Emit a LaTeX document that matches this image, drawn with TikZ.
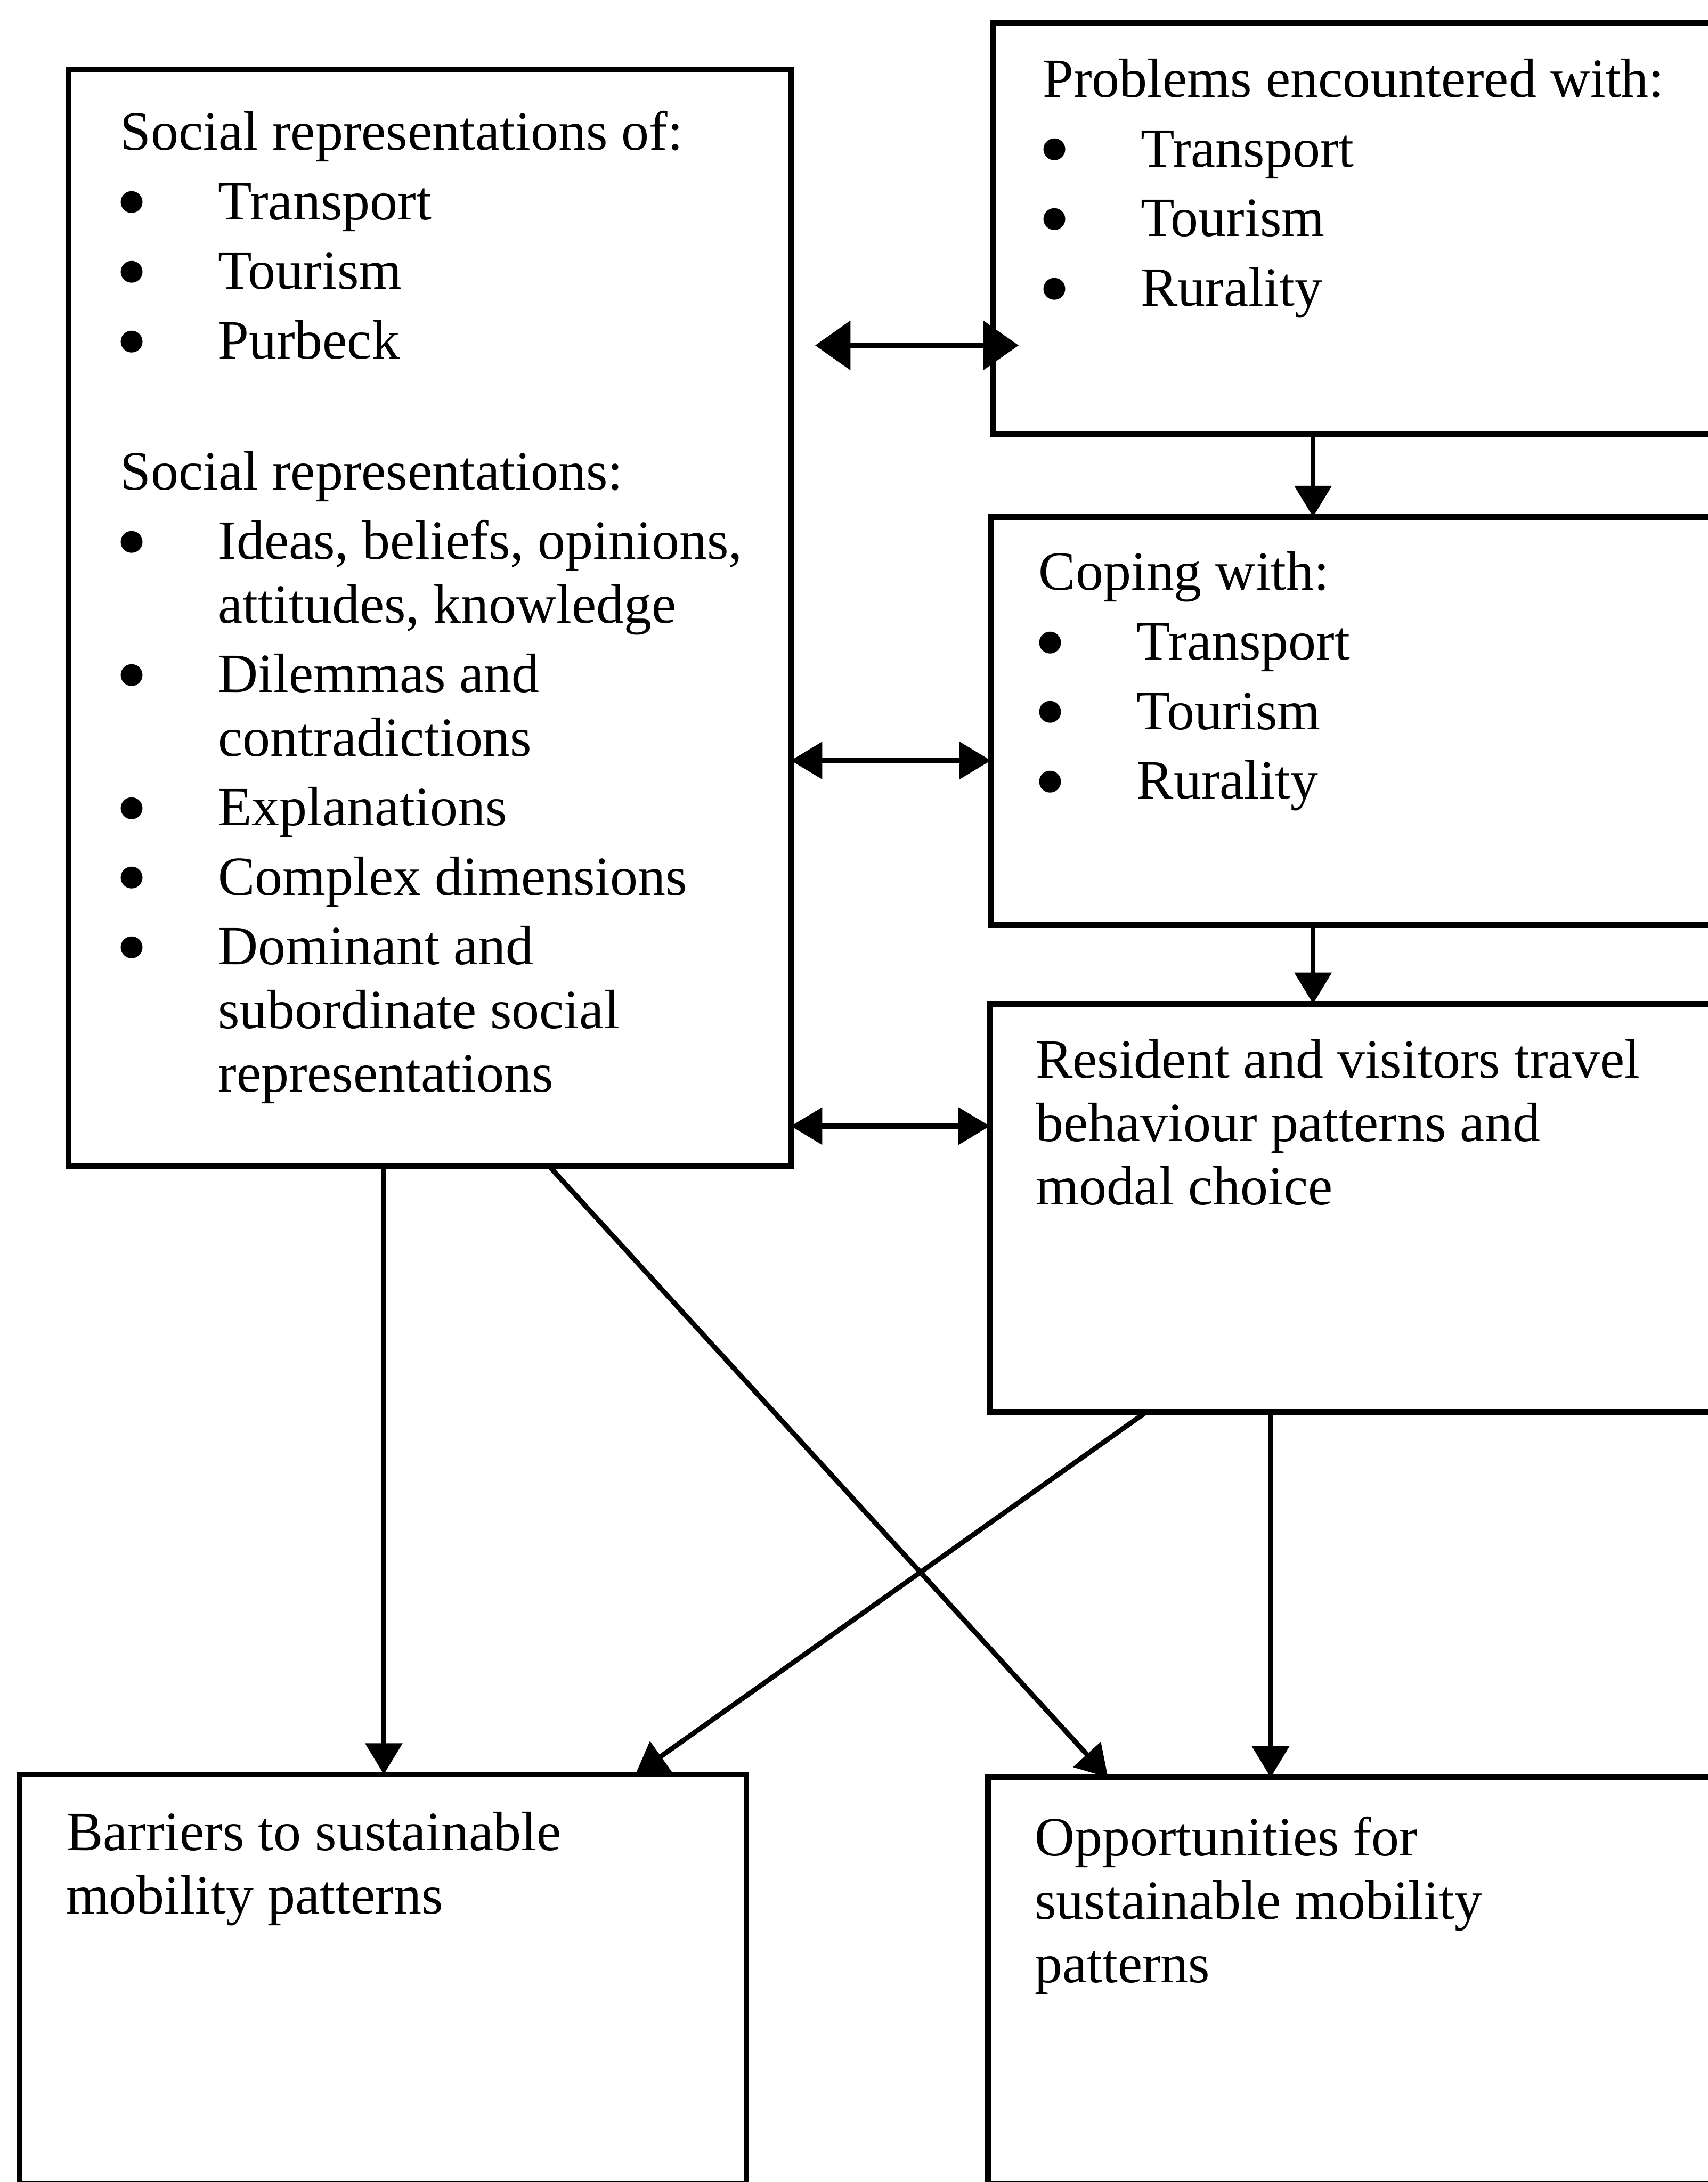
\documentclass[tikz,border=0pt]{standalone}
\usepackage{fontspec}
\usepackage{graphicx}
\setmainfont{Liberation Serif}
\usetikzlibrary{arrows.meta}

\newcommand{\bul}{\makebox[0.97cm][l]{\hspace*{-1.2pt}\smash{\raisebox{-3.7pt}{\scalebox{1.65}{\textbullet}}}}}
\newcommand{\cont}{\makebox[0.97cm]{}}

\tikzset{
  box/.style={draw, line width=1.6pt, inner sep=0pt, outer sep=0pt},
  % base of a multi-line node = base of its last line
  txt/.style={anchor=base west, align=left, inner sep=0pt, font=\fontsize{15.6}{17.9}\selectfont},
  bigtip/.style={>={Triangle[length=3.5mm,width=4.8mm]}},
}

\begin{document}
\begin{tikzpicture}[>={Triangle[length=3.1mm,width=3.6mm]}, line width=1.4pt]
\useasboundingbox (0,0) rectangle (16.91,-21.605);
\clip (0,0) rectangle (16.91,-21.605);

% boxes
\node[box, minimum width=7.15cm, minimum height=10.86cm] (sr) at (4.255,-6.12) {};
\node[box, minimum width=7.465cm, minimum height=4.07cm] (pr) at (13.5675,-2.265) {};
\node[box, minimum width=7.49cm, minimum height=4.04cm] (co) at (13.555,-7.14) {};
\node[box, minimum width=7.5cm, minimum height=4.04cm] (re) at (13.55,-11.96) {};
\node[box, minimum width=7.2cm, minimum height=4.06cm] (ba) at (3.79,-19.6) {};
\node[box, minimum width=7.52cm, minimum height=4.03cm] (op) at (13.54,-19.615) {};

% texts
\node[txt] (srT) at (1.165,-10.81) {Social representations of:\\[1.7pt]
\bul Transport\\[1.7pt]
\bul Tourism\\[1.7pt]
\bul Purbeck\\[19pt]
Social representations:\\[1.7pt]
\bul Ideas, beliefs, opinions,\\
\cont attitudes, knowledge\\[1.7pt]
\bul Dilemmas and\\
\cont contradictions\\[1.7pt]
\bul Explanations\\[1.7pt]
\bul Complex dimensions\\[1.7pt]
\bul Dominant and\\
\cont subordinate social\\
\cont representations};
\node[txt] (prT) at (10.30,-3.03) {Problems encountered with:\\[1.7pt]
\bul Transport\\[1.7pt]
\bul Tourism\\[1.7pt]
\bul Rurality};
\node[txt] (coT) at (10.26,-7.91) {Coping with:\\[1.7pt]
\bul Transport\\[1.7pt]
\bul Tourism\\[1.7pt]
\bul Rurality};
\node[txt] (reT) at (10.23,-11.93) {Resident and visitors travel\\behaviour patterns and\\modal choice};
\node[txt] (baT) at (0.63,-18.95) {Barriers to sustainable\\mobility patterns};
\node[txt] (opT) at (10.22,-19.63) {Opportunities for\\sustainable mobility\\patterns};

% connectors
\draw[<->, bigtip, shorten <=2.4mm, shorten >=-2.5mm] (sr.east |- 0,-3.42) -- (pr.west |- 0,-3.42);
\draw[<->] (sr.east |- 0,-7.53) -- (co.west |- 0,-7.53);
\draw[<->] (sr.east |- 0,-11.15) -- (re.west |- 0,-11.15);
\draw[->] (pr.south -| 13.0,0) -- (co.north -| 13.0,0);
\draw[->] (co.south -| 13.0,0) -- (re.north -| 13.0,0);
\draw[->] (sr.south -| 3.8,0) -- (ba.north -| 3.8,0);
\draw[->] (sr.south -| 5.44,0) -- (op.north -| 10.97,0);
\draw[->] (re.south -| 11.35,0) -- (ba.north -| 6.29,0);
\draw[->] (re.south -| 12.58,0) -- (op.north -| 12.58,0);
\end{tikzpicture}
\end{document}
